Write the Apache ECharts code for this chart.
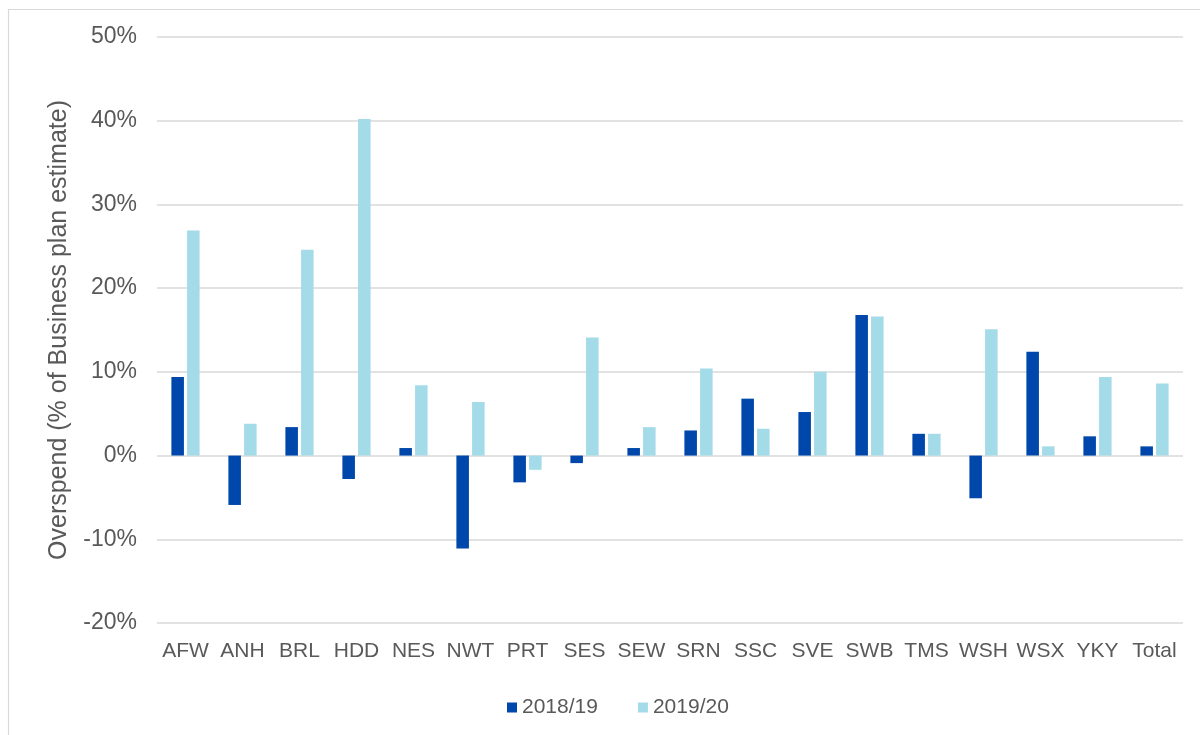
<!DOCTYPE html>
<html>
<head>
<meta charset="utf-8">
<script src="https://cdn.jsdelivr.net/npm/echarts@6/dist/echarts.min.js"></script>
<style>
  html, body { margin: 0; padding: 0; background: #ffffff; }
  #chart { width: 1200px; height: 735px; }
</style>
</head>
<body>
<div id="chart"></div>
<script>
// Water company codes plus the industry total
const companies = ['AFW', 'ANH', 'BRL', 'HDD', 'NES', 'NWT', 'PRT', 'SES', 'SEW',
  'SRN', 'SSC', 'SVE', 'SWB', 'TMS', 'WSH', 'WSX', 'YKY', 'Total'];

// Overspend as % of business plan estimate
const overspend2018 = [9.4, -5.9, 3.4, -2.8, 0.9, -11.1, -3.2, -0.9, 0.9,
  3.0, 6.8, 5.2, 16.8, 2.6, -5.1, 12.4, 2.3, 1.1];
const overspend2019 = [26.9, 3.8, 24.6, 40.2, 8.4, 6.4, -1.7, 14.1, 3.4,
  10.4, 3.2, 10.0, 16.6, 2.6, 15.1, 1.1, 9.4, 8.6];

const seriesNames = ['2018/19', '2019/20'];

const textColor = '#595959';
const fontFamily = 'Liberation Sans, Arial, sans-serif';

const chart = echarts.init(document.getElementById('chart'), null, { renderer: 'canvas' });

chart.setOption({
  animation: false,
  backgroundColor: '#ffffff',
  textStyle: { fontFamily: fontFamily, color: textColor },
  graphic: [{
    type: 'rect',
    shape: { x: 8.5, y: 9.5, width: 1200, height: 740 },
    style: { fill: 'none', stroke: '#d9d9d9', lineWidth: 1.2 },
    silent: true
  }],
  grid: { left: 157, right: 17, top: 37, bottom: 112, containLabel: false },
  legend: {
    data: seriesNames,
    left: 502,
    top: 692,
    icon: 'rect',
    itemWidth: 10,
    itemHeight: 10,
    itemGap: 40,
    textStyle: { fontFamily: fontFamily, fontSize: 21, color: textColor }
  },
  xAxis: {
    type: 'category',
    data: companies,
    axisLine: { show: false, onZero: false },
    axisTick: { show: false },
    axisLabel: {
      interval: 0,
      margin: 18,
      fontFamily: fontFamily,
      fontSize: 21,
      color: textColor
    },
    splitLine: { show: false }
  },
  yAxis: {
    type: 'value',
    min: -20,
    max: 50,
    interval: 10,
    name: 'Overspend (% of Business plan estimate)',
    nameLocation: 'middle',
    nameRotate: 90,
    nameGap: 85,
    nameTextStyle: { fontFamily: fontFamily, fontSize: 25, color: textColor },
    axisLine: { show: false },
    axisTick: { show: false },
    axisLabel: {
      margin: 20,
      formatter: '{value}%',
      fontFamily: fontFamily,
      fontSize: 23,
      color: textColor
    },
    splitLine: { show: true, lineStyle: { color: '#d9d9d9', width: 1.6 } }
  },
  series: [
    {
      name: seriesNames[0],
      type: 'bar',
      data: overspend2018,
      barWidth: '22%',
      barGap: '25%',
      itemStyle: { color: '#0047ab' }
    },
    {
      name: seriesNames[1],
      type: 'bar',
      data: overspend2019,
      barWidth: '22%',
      barGap: '25%',
      itemStyle: { color: '#a4dbe8' }
    }
  ]
});
</script>
</body>
</html>
